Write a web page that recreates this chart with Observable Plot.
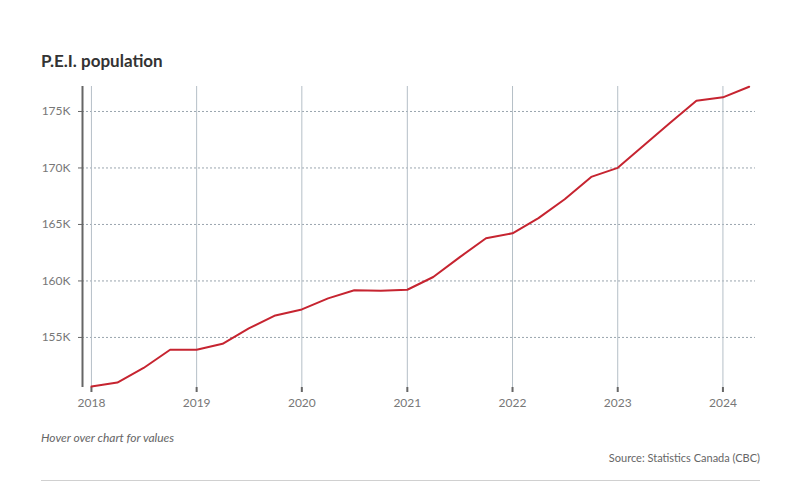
<!DOCTYPE html>
<html><head><meta charset="utf-8">
<script src="https://cdn.jsdelivr.net/npm/d3@7"></script>
<script src="https://cdn.jsdelivr.net/npm/@observablehq/plot@0.6"></script>
<style>
body{margin:0;background:#fff;font-family:Lato,"Open Sans",sans-serif;}
#wrap{position:relative;width:800px;height:497px;overflow:hidden;}
#title{position:absolute;left:41px;top:50px;font-size:17px;font-weight:bold;color:#333;}
#chart{position:absolute;left:0;top:80px;}
#hover{position:absolute;left:41px;top:430px;font-size:12px;font-style:italic;color:#666;}
#source{position:absolute;right:40px;top:451px;font-size:11px;color:#666;}
#rule{position:absolute;left:41px;width:719px;top:480px;height:1px;background:#d0d0d0;}
</style></head>
<body><div id="wrap">
<div id="title">P.E.I. population</div>
<div id="chart"></div>
<div id="hover">Hover over chart for values</div>
<div id="source">Source: Statistics Canada (CBC)</div>
<div id="rule"></div>
</div>
<script>
const quarters = ["2018-01-01","2018-04-01","2018-07-01","2018-10-01",
 "2019-01-01","2019-04-01","2019-07-01","2019-10-01",
 "2020-01-01","2020-04-01","2020-07-01","2020-10-01",
 "2021-01-01","2021-04-01","2021-07-01","2021-10-01",
 "2022-01-01","2022-04-01","2022-07-01","2022-10-01",
 "2023-01-01","2023-04-01","2023-07-01","2023-10-01",
 "2024-01-01","2024-04-01"];
const population = [150660,151010,152300,153910,
 153910,154440,155800,156950,
 157480,158460,159170,159140,
 159220,160350,162090,163780,
 164220,165560,167230,169210,
 170010,171980,173970,175950,
 176250,177190];
const yearTicks = ["2018","2019","2020","2021","2022","2023","2024"];
const yTicks = [155000,160000,165000,170000,175000];

const data = quarters.map((q,i)=>({date:new Date(q+"T00:00:00Z"), value:population[i]}));
const xt = yearTicks.map(y=>new Date(y+"-01-01T00:00:00Z"));

const chart = Plot.plot({
  width:800, height:335,
  marginLeft:82, marginRight:45, marginTop:6, marginBottom:28,
  style:{fontFamily:"Lato, 'Open Sans', sans-serif", fontSize:"12px", color:"#666", background:"transparent"},
  x:{type:"utc", label:null, domain:[new Date("2017-12-01T00:00:00Z"), new Date("2024-04-23T00:00:00Z")]},
  y:{label:null, domain:[150570,177210]},
  marks:[
    Plot.gridY(yTicks,{stroke:"#9aa5ae", strokeOpacity:1, strokeDasharray:"2,2", strokeWidth:1}),
    Plot.gridX(xt,{stroke:"#b5bfc7", strokeOpacity:1, strokeWidth:1}),
    Plot.axisY(yTicks,{label:null, tickSize:4, tickPadding:8, stroke:"#666", tickFormat:d=>d/1000+"K", fill:"#777", fontSize:12}),
    Plot.axisX(xt,{label:null, tickSize:5, tickPadding:6, stroke:"#666", strokeWidth:2, tickFormat:d=>String(d.getUTCFullYear()), fill:"#777", fontSize:12}),
    Plot.ruleX([new Date("2017-12-01T00:00:00Z")],{stroke:"#666", strokeWidth:2}),
    Plot.line(data,{x:"date", y:"value", stroke:"#c62430", strokeWidth:2})
  ]
});
document.getElementById("chart").appendChild(chart);
</script>
</body></html>
